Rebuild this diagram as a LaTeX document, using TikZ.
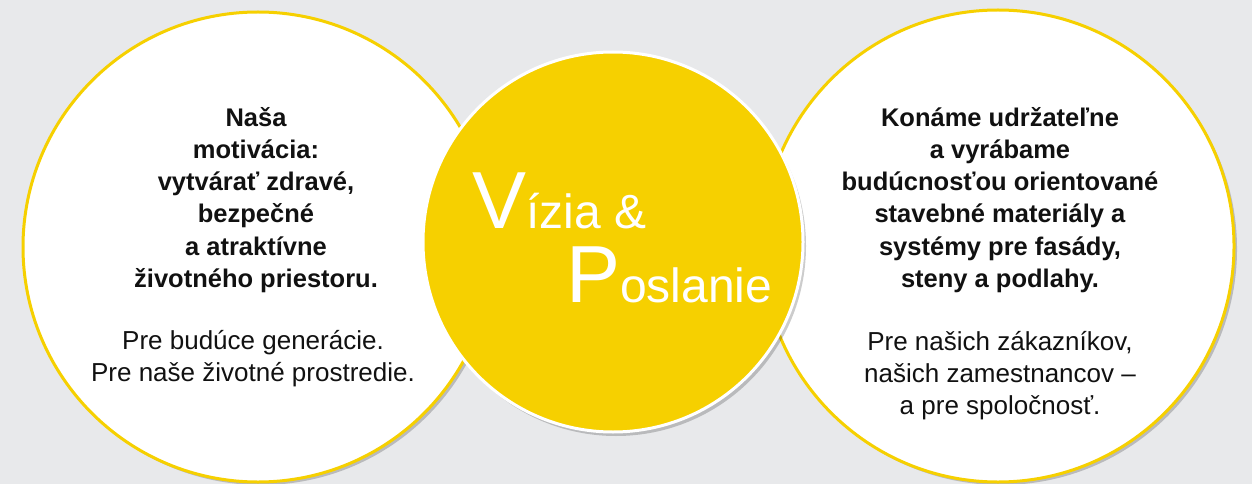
\documentclass[tikz,border=0pt]{standalone}
\usepackage{fontspec}
\setmainfont{Liberation Sans}
\usetikzlibrary{shadows}
\definecolor{visionyellow}{HTML}{F6D000}
\definecolor{bggray}{HTML}{E8E9EB}
\definecolor{textblack}{HTML}{111111}
\begin{document}
\begin{tikzpicture}[x=1pt, y=-1pt,
side/.style={circle, draw=visionyellow, line width=3pt, fill=white, inner sep=0pt,
drop shadow={shadow xshift=3pt, shadow yshift=-3pt, opacity=0.2, fill=black}},
hub/.style={circle, draw=white, line width=3pt, fill=visionyellow, inner sep=0pt,
drop shadow={shadow xshift=3pt, shadow yshift=-4pt, opacity=0.2, fill=black}},
strong/.style={align=center, inner sep=0pt, text=textblack,
font=\fontsize{25.5}{32.2}\selectfont\bfseries},
plain/.style={align=center, inner sep=0pt, text=textblack,
font=\fontsize{26}{32}\selectfont}]
  \useasboundingbox[fill=bggray] (0,0) rectangle (1252,484);
  % 2 outside circles
  \node[side, minimum size=470pt] (left) at (258,247) {};
  \node[side, minimum size=472pt] (right) at (998,246) {};
  % 1 center circle
  \node[hub, minimum size=380pt] (mid) at (613,242) {};

  % texts of the left circle
  \node[strong] (leftgoal) at (256,200) {Naša\\ motivácia:\\ vytvárať zdravé,\\ bezpečné\\ a atraktívne\\ životného priestoru.};
  \node[plain] (leftfor) at (253,359) {Pre budúce generácie.\\ Pre naše životné prostredie.};
  % texts of the right circle
  \node[strong] (rightgoal) at (1000,200) {Konáme udržateľne\\ a vyrábame\\ budúcnosťou orientované\\ stavebné materiály a\\ systémy pre fasády,\\ steny a podlahy.};
  \node[plain] (rightfor) at (1000,376) {Pre našich zákazníkov,\\ našich zamestnancov –\\ a pre spoločnosť.};
  % title of the center circle
  \node[anchor=base west, inner sep=0pt, text=white] (vision) at (472,228)
    {\fontsize{81}{81}\selectfont V\fontsize{48}{48}\selectfont ízia \&};
  \node[anchor=base west, inner sep=0pt, text=white] (mission) at (566,302)
    {\fontsize{81}{81}\selectfont P\fontsize{48}{48}\selectfont oslanie};
\end{tikzpicture}
\end{document}
